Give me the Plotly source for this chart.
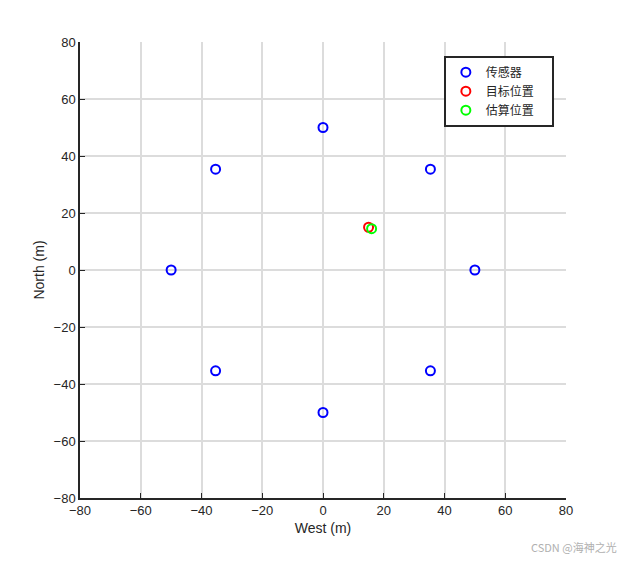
import plotly.graph_objects as go

sensor_x = [50, 35.36, 0, -35.36, -50, -35.36, 0, 35.36]
sensor_y = [0, 35.36, 50, 35.36, 0, -35.36, -50, -35.36]
target_x = [15]
target_y = [15]
est_x = [16]
est_y = [14.5]
ticks = [-80, -60, -40, -20, 0, 20, 40, 60, 80]

mk = lambda c: dict(symbol="circle-open", size=9, color=c, line=dict(width=2, color=c))
fig = go.Figure()
fig.add_trace(go.Scatter(x=sensor_x, y=sensor_y, mode="markers", marker=mk("#0000ff"), name="传感器　　"))
fig.add_trace(go.Scatter(x=target_x, y=target_y, mode="markers", marker=mk("#ff0000"), name="目标位置"))
fig.add_trace(go.Scatter(x=est_x, y=est_y, mode="markers", marker=mk("#00ff00"), name="估算位置"))

ax = dict(range=[-80, 80], tickvals=ticks, showgrid=True, gridcolor="#dcdcdc", gridwidth=1.5,
          zeroline=False, showline=True, linecolor="#262626", linewidth=1.5, mirror=False,
          automargin=False,
          ticks="inside", ticklen=5, tickcolor="#262626", tickfont=dict(size=13, color="#262626"))
fig.update_layout(
    width=625, height=562, paper_bgcolor="white", plot_bgcolor="white",
    margin=dict(l=72, r=67, t=34, b=72),
    font=dict(family="Liberation Sans, Arial", color="#262626"),
    xaxis=dict(ax, title=dict(text="West (m)", font=dict(size=14), standoff=6)),
    yaxis=dict(ax, title=dict(text="North (m)", font=dict(size=14), standoff=6)),
    legend=dict(x=0.975, y=0.97, xanchor="right", yanchor="top", bgcolor="white",
                bordercolor="#262626", borderwidth=2,
                font=dict(family="Noto Sans CJK SC", size=12, color="#262626"), tracegroupgap=0),
)
fig.add_annotation(text="CSDN @海神之光", xref="paper", yref="paper", x=1.11, y=-0.13,
                   showarrow=False, xanchor="right", font=dict(size=11, color="#b0b0b0", family="Noto Sans CJK SC"))
fig.write_html("out.html")
